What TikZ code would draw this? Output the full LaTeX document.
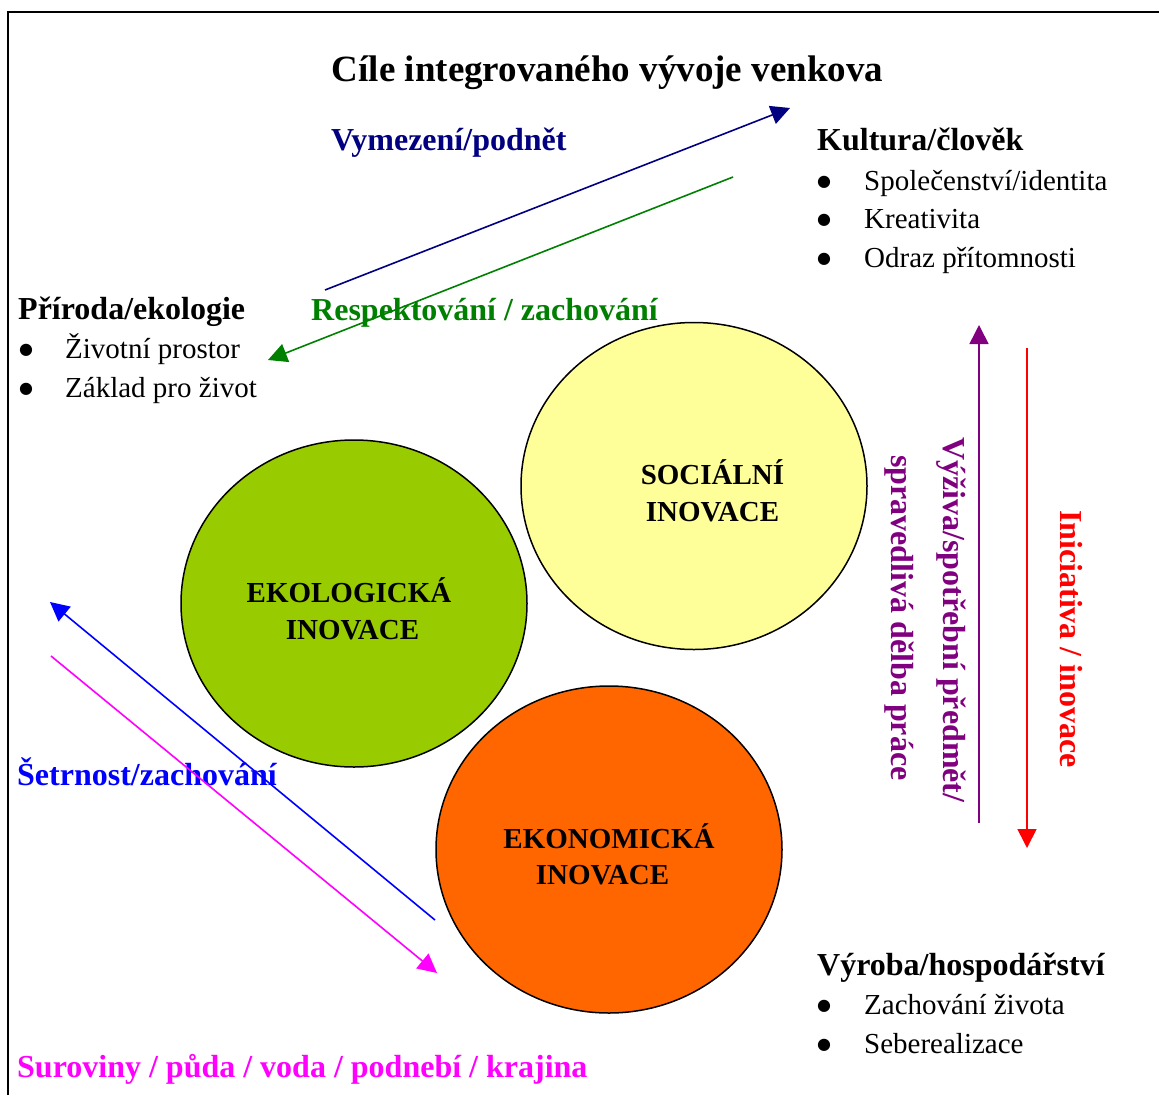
\documentclass[tikz,border=0pt]{standalone}
\usepackage{fontspec}
\setmainfont{Liberation Serif}
\newfontfamily\dejavu{DejaVu Sans}
\usetikzlibrary{shapes.geometric,arrows.meta}
\definecolor{navyc}{HTML}{000080}
\definecolor{greenc}{HTML}{008000}
\definecolor{purplec}{HTML}{800080}
\definecolor{redc}{HTML}{FF0000}
\definecolor{bluec}{HTML}{0000FF}
\definecolor{magc}{HTML}{FF00FF}
\definecolor{ecofill}{HTML}{99CC00}
\definecolor{socfill}{HTML}{FFFF99}
\definecolor{ekofill}{HTML}{FF6600}
\newcommand{\bigbul}{\raisebox{4pt}{\dejavu\fontsize{16}{18}\selectfont ●}}
\begin{document}
\begin{tikzpicture}[x=1pt,y=-1pt,
  arr/.style={line width=1.6pt,-{Triangle[length=19pt,width=19pt]}},
  circ/.style={ellipse,draw=black,line width=1.5pt,minimum width=346pt,minimum height=327pt,inner sep=0pt},
  ctext/.style={font=\fontsize{29}{34}\selectfont\bfseries,anchor=base,inner sep=0pt},
  lab/.style={font=\fontsize{32}{38}\selectfont\bfseries,anchor=base west,inner sep=0pt},
  body/.style={font=\fontsize{29}{34}\selectfont,anchor=base west,inner sep=0pt},
  bul/.style={anchor=base west,inner sep=0pt},
  vlab/.style={font=\fontsize{32}{38}\selectfont\bfseries,anchor=base west,inner sep=0pt,rotate=-90},
]
\useasboundingbox (0,0) rectangle (1159,1095);
\draw[line width=2.6pt] (8,1095) -- (8,12) -- (1159,12);

% title
\node[font=\fontsize{37}{44}\selectfont\bfseries,anchor=base,inner sep=0pt] (title) at (607.5,81) {Cíle integrovaného vývoje venkova};

% circles
\node[circ,fill=ecofill] (eco) at (354,603.5) {};
\node[circ,fill=socfill] (soc) at (694,486) {};
\node[circ,fill=ekofill] (eko) at (609,849.5) {};
\node[ctext] (eco1) at (349,602) {EKOLOGICKÁ};
\node[ctext] (eco2) at (352.5,639) {INOVACE};
\node[ctext] (soc1) at (712.5,484) {SOCIÁLNÍ};
\node[ctext] (soc2) at (712.5,521) {INOVACE};
\node[ctext] (eko1) at (609,848) {EKONOMICKÁ};
\node[ctext] (eko2) at (602.5,884) {INOVACE};

% Kultura
\node[lab] (kult) at (817,150) {Kultura/člověk};
\node[bul] (kb1) at (817,190) {\bigbul};
\node[body] (kt1) at (864,190) {Společenství/identita};
\node[bul] (kb2) at (817,228) {\bigbul};
\node[body] (kt2) at (864,228) {Kreativita};
\node[bul] (kb3) at (817,267) {\bigbul};
\node[body] (kt3) at (864,267) {Odraz přítomnosti};

% Priroda
\node[lab] (prir) at (18,319) {Příroda/ekologie};
\node[bul] (pb1) at (19,358) {\bigbul};
\node[body] (pt1) at (65,358) {Životní prostor};
\node[bul] (pb2) at (19,397) {\bigbul};
\node[body] (pt2) at (65,397) {Základ pro život};

% Vyroba
\node[lab] (vyr) at (817,975) {Výroba/hospodářství};
\node[bul] (vb1) at (817,1014) {\bigbul};
\node[body] (vt1) at (864,1014) {Zachování života};
\node[bul] (vb2) at (817,1053) {\bigbul};
\node[body] (vt2) at (864,1053) {Seberealizace};

% coloured labels
\node[lab,text=navyc] (vym) at (331,150) {Vymezení/podnět};
\node[lab,text=greenc] (resp) at (311,320) {Respektování / zachování};
\node[lab,text=bluec] (setr) at (17,785) {Šetrnost/zachování};
\node[lab,text=magc] (sur) at (17,1077) {Suroviny / půda / voda / podnebí / krajina};
\node[vlab,text=purplec] (vyz1) at (943,437) {Výživa/spotřební předmět/};
\node[vlab,text=purplec] (vyz2) at (891,455) {spravedlivá dělba práce};
\node[vlab,text=redc] (inic) at (1060,510) {Iniciativa / inovace};

% arrow end points
\coordinate (n1) at (325,290); \coordinate (n2) at (790,108);
\coordinate (g1) at (733,177); \coordinate (g2) at (268,360);
\coordinate (p1) at (979,823); \coordinate (p2) at (979,325);
\coordinate (r1) at (1027,348); \coordinate (r2) at (1027,848);
\coordinate (b1) at (435,920); \coordinate (b2) at (50,602);
\coordinate (m1) at (51,656); \coordinate (m2) at (437,973);

\draw[arr,navyc] (n1) -- (n2);
\draw[arr,greenc] (g1) -- (g2);
\draw[arr,purplec] (p1) -- (p2);
\draw[arr,redc] (r1) -- (r2);
\draw[arr,bluec] (b1) -- (b2);
\draw[arr,magc] (m1) -- (m2);
\end{tikzpicture}
\end{document}
